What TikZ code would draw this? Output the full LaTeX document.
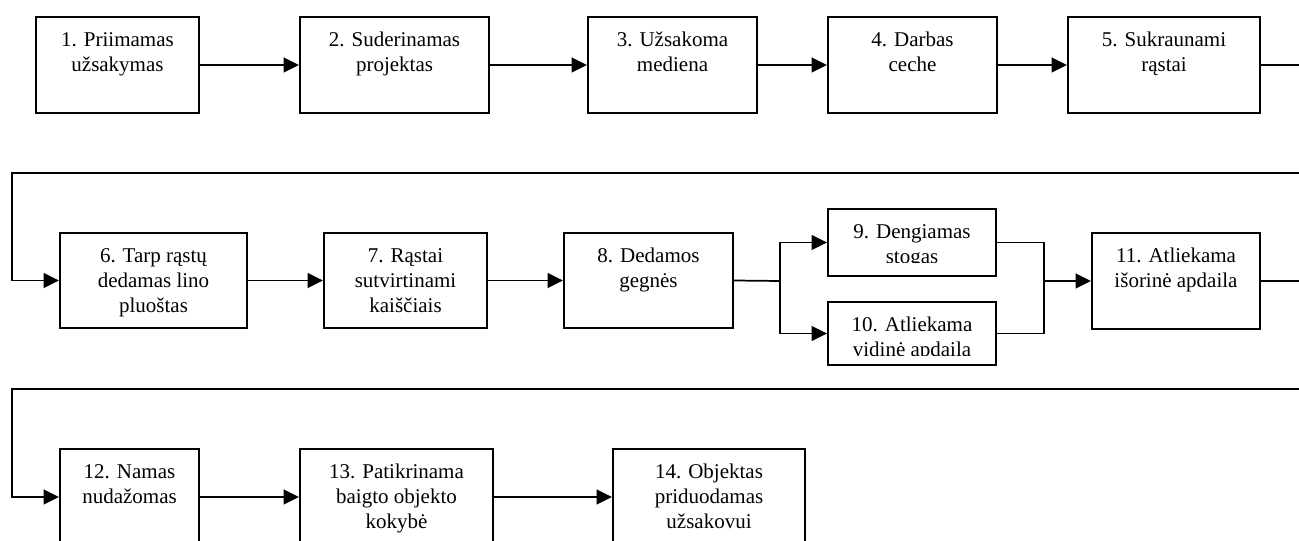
\documentclass[tikz,border=0pt]{standalone}
\usepackage{fontspec}
\setmainfont{Liberation Serif}
\usetikzlibrary{arrows.meta}

% box from its corners (x1,y1) to (x2,y2), in pixel-like units
\newcommand\flowbox[5]{%
  \node[box, minimum width={(#4-#2)*0.75pt}, minimum height={(#5-#3)*0.75pt}]
    (#1) at ({(#2+#4)/2},{(#3+#5)/2}) {};}

\begin{document}
\begin{tikzpicture}[x=0.75pt,y=-0.75pt,
  box/.style={draw, line width=1.5pt, inner sep=0pt, rectangle},
  txt/.style={anchor=north, inner sep=0pt, align=center, yshift=-9.375pt,
              font=\fontsize{15.75}{18.75}\selectfont},
  link/.style={line width=1.3pt},
  flow/.style={link, -{Triangle[length=11.5pt,width=11pt]}}]

\useasboundingbox (0,0) rectangle (1299,541);
\fill[white] (0,0) rectangle (1299,541);

% row 1
\flowbox{b1}{36}{17}{199}{113}
\flowbox{b2}{300}{17}{489}{113}
\flowbox{b3}{588}{17}{757}{113}
\flowbox{b4}{828}{17}{997}{113}
\flowbox{b5}{1068}{17}{1260}{113}
% row 2
\flowbox{b6}{60}{233}{247}{328}
\flowbox{b7}{324}{233}{487}{328}
\flowbox{b8}{564}{233}{733}{328}
\flowbox{b9}{828}{209}{996}{276}
\flowbox{b10}{828}{302}{996}{365}
\flowbox{b11}{1092}{233}{1260}{329}
% row 3
\flowbox{b12}{60}{449}{199}{545}
\flowbox{b13}{300}{449}{493}{545}
\flowbox{b14}{613}{449}{805}{545}

% labels
\node[txt] (t1) at (b1.north) {\strut 1. Priimamas\\užsakymas};
\node[txt] (t2) at (b2.north) {\strut 2. Suderinamas\\projektas};
\node[txt] (t3) at (b3.north) {\strut 3. Užsakoma\\mediena};
\node[txt] (t4) at (b4.north) {\strut 4. Darbas\\ceche};
\node[txt] (t5) at (b5.north) {\strut 5. Sukraunami\\rąstai};
\node[txt] (t6) at (b6.north) {\strut 6. Tarp rąstų\\dedamas lino\\pluoštas};
\node[txt] (t7) at (b7.north) {\strut 7. Rąstai\\sutvirtinami\\kaiščiais};
\node[txt] (t8) at (b8.north) {\strut 8. Dedamos\\gegnės};
\begin{scope}
  \clip (828,209) rectangle (996,262.5);
  \node[txt] (t9) at (b9.north) {\strut 9. Dengiamas\\stogas};
\end{scope}
\begin{scope}
  \clip (828,302) rectangle (996,355.5);
  \node[txt] (t10) at (b10.north) {\strut 10. Atliekama\\vidinė apdaila};
\end{scope}
\node[txt] (t11) at (b11.north) {\strut 11. Atliekama\\išorinė apdaila};
\node[txt] (t12) at (b12.north) {\strut 12. Namas\\nudažomas};
\node[txt] (t13) at (b13.north) {\strut 13. Patikrinama\\baigto objekto\\kokybė};
\node[txt] (t14) at (b14.north) {\strut 14. Objektas\\priduodamas\\užsakovui};

% routing points
\coordinate (wr1) at (1312,173);
\coordinate (wl1) at (12,173);
\coordinate (wr2) at (1312,389);
\coordinate (wl2) at (12,389);
\coordinate (split) at (780,281);
\coordinate (merge) at (1044,281);

% connectors, row 1
\draw[flow] (b1.east) -- (b2.west);
\draw[flow] (b2.east) -- (b3.west);
\draw[flow] (b3.east) -- (b4.west);
\draw[flow] (b4.east) -- (b5.west);
\draw[flow] (b5.east) -| (wr1) -- (wl1) |- (b6.west);

% connectors, row 2
\draw[flow] (b6.east) -- (b7.west);
\draw[flow] (b7.east) -- (b8.west);
\draw[link] (b8.east) -- (split);
\draw[flow] (split) |- (b9.west);
\draw[flow] (split) |- (b10.west);
\draw[link] (b9.east) -| (merge);
\draw[link] (b10.east) -| (merge);
\draw[flow] (merge) -- (b11.west);
\draw[flow] (b11.east) -| (wr2) -- (wl2) |- (b12.west);

% connectors, row 3
\draw[flow] (b12.east) -- (b13.west);
\draw[flow] (b13.east) -- (b14.west);

\end{tikzpicture}
\end{document}
